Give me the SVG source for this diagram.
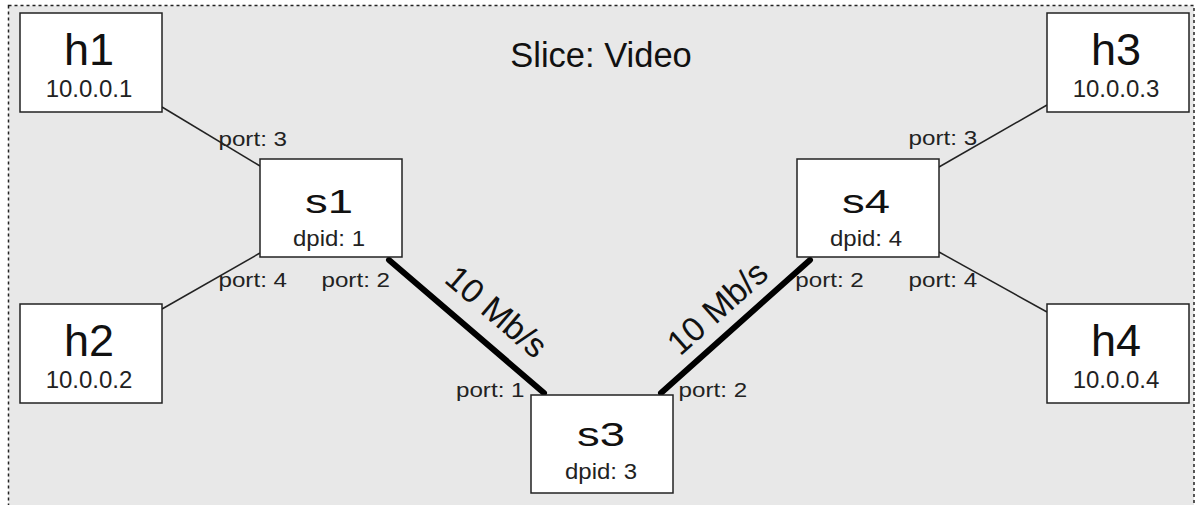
<svg xmlns="http://www.w3.org/2000/svg" width="1196" height="505" viewBox="0 0 1196 505">
<style>
.box{fill:#fff;stroke:#222;stroke-width:1.5}
.t{font-family:"Liberation Sans",Arial,Helvetica,sans-serif;text-anchor:middle;fill:#111}
.big{font-size:45px}
.sw{font-size:34px}
.sub{font-size:24px;fill:#222}
.dp{font-size:22.5px;fill:#222}
.port{font-family:"Liberation Sans",Arial,Helvetica,sans-serif;font-size:20.5px;fill:#222}
.thin{stroke:#222;stroke-width:1.5;fill:none}
.thick{stroke:#000;stroke-width:6;stroke-linecap:round;fill:none}
.bw{font-family:"Liberation Sans",Arial,Helvetica,sans-serif;font-size:34px;fill:#111;text-anchor:middle}
</style>
<rect x="8.5" y="5.5" width="1185.5" height="520" fill="#e8e8e8" stroke="#222" stroke-width="1.5" stroke-dasharray="3 3"/>
<text class="t" x="601" y="67" font-size="34.5">Slice: Video</text>
<g id="connectors">
<line class="thin" x1="162" y1="107" x2="260" y2="166"/>
<line class="thin" x1="162" y1="309" x2="260" y2="253"/>
<line class="thin" x1="939" y1="167" x2="1047" y2="105"/>
<line class="thin" x1="939" y1="252" x2="1047" y2="312"/>
<line class="thick" x1="389" y1="260" x2="544" y2="393"/>
<line class="thick" x1="661" y1="393" x2="810" y2="260"/>
<text class="bw" transform="translate(489,320.5) rotate(40.6)">10 Mb/s</text>
<text class="bw" transform="translate(725,316.5) rotate(-41.8)">10 Mb/s</text>
<text class="port" x="218.5" y="145.5" textLength="68.5" lengthAdjust="spacingAndGlyphs">port: 3</text>
<text class="port" x="218.5" y="287" textLength="68.5" lengthAdjust="spacingAndGlyphs">port: 4</text>
<text class="port" x="321.5" y="287" textLength="68.5" lengthAdjust="spacingAndGlyphs">port: 2</text>
<text class="port" x="456" y="396.5" textLength="68.5" lengthAdjust="spacingAndGlyphs">port: 1</text>
<text class="port" x="678.6" y="396.5" textLength="68.5" lengthAdjust="spacingAndGlyphs">port: 2</text>
<text class="port" x="908.6" y="145" textLength="68.5" lengthAdjust="spacingAndGlyphs">port: 3</text>
<text class="port" x="795.3" y="287" textLength="68.5" lengthAdjust="spacingAndGlyphs">port: 2</text>
<text class="port" x="908.6" y="287" textLength="68.5" lengthAdjust="spacingAndGlyphs">port: 4</text>
</g>
<g id="h1">
<rect class="box" x="20" y="13" width="142" height="99"/>
<text class="t big" x="89" y="65">h1</text>
<text class="t sub" x="89" y="96.5">10.0.0.1</text>
</g>
<g id="h2">
<rect class="box" x="20" y="304" width="142" height="99"/>
<text class="t big" x="89" y="356">h2</text>
<text class="t sub" x="89" y="388">10.0.0.2</text>
</g>
<g id="h3">
<rect class="box" x="1047" y="13" width="142" height="99"/>
<text class="t big" x="1116" y="65">h3</text>
<text class="t sub" x="1116" y="96.5">10.0.0.3</text>
</g>
<g id="h4">
<rect class="box" x="1047" y="304" width="142" height="99"/>
<text class="t big" x="1116" y="356">h4</text>
<text class="t sub" x="1116" y="388">10.0.0.4</text>
</g>
<g id="s1">
<rect class="box" x="260" y="159" width="142" height="98"/>
<text class="t sw" x="329" y="213" textLength="48" lengthAdjust="spacingAndGlyphs">s1</text>
<text class="t dp" x="329" y="245.5" textLength="72" lengthAdjust="spacingAndGlyphs">dpid: 1</text>
</g>
<g id="s3">
<rect class="box" x="531" y="395" width="142" height="98"/>
<text class="t sw" x="601" y="446" textLength="48" lengthAdjust="spacingAndGlyphs">s3</text>
<text class="t dp" x="601" y="478.5" textLength="72" lengthAdjust="spacingAndGlyphs">dpid: 3</text>
</g>
<g id="s4">
<rect class="box" x="797" y="159" width="142" height="98"/>
<text class="t sw" x="866" y="213" textLength="48" lengthAdjust="spacingAndGlyphs">s4</text>
<text class="t dp" x="866" y="245.5" textLength="72" lengthAdjust="spacingAndGlyphs">dpid: 4</text>
</g>
</svg>
